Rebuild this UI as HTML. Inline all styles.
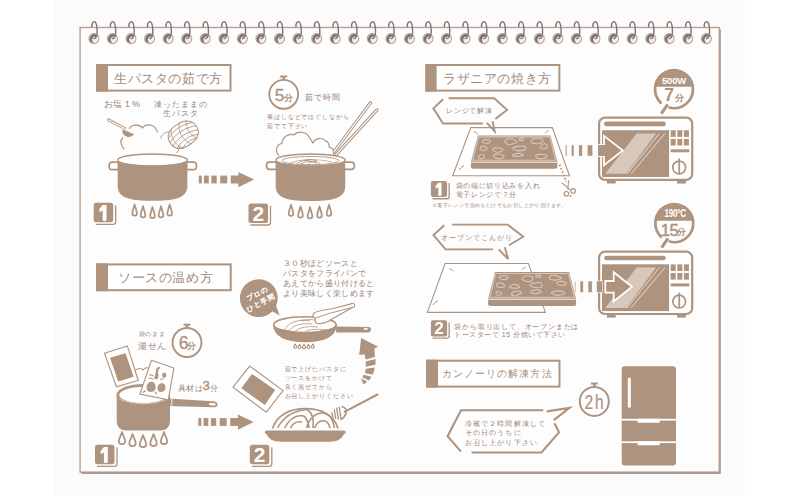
<!DOCTYPE html>
<html lang="ja"><head><meta charset="utf-8"><title>Cooking instructions</title>
<style>
html,body{margin:0;padding:0;background:#fff;width:800px;height:495px;overflow:hidden}
#bg{position:absolute;left:54px;top:0;width:691px;height:495px;background:#fbfbfb}
svg{position:absolute;left:0;top:0;font-family:"Liberation Sans",sans-serif}
</style></head><body>
<div id="bg"></div>
<svg width="800" height="495" viewBox="0 0 800 495">
<rect x="81.4" y="29.2" width="639.2" height="444.5" fill="#7a7a7a"/>
<rect x="80.1" y="27.5" width="639.1" height="444.6" fill="#fdfdfd" stroke="#bd9f8c" stroke-width="1.4"/>
<circle cx="93.90" cy="38.6" r="5.0" fill="#f6eeea" stroke="#bf9f8d" stroke-width="1.05"/>
<path d="M91.96,42.77 A4.6,4.6 0 0 1 96.20,34.62 L96.25,36.99 A2.9,2.9 0 0 0 93.57,42.13 Z" fill="#747474"/>
<path d="M91.90,27.20 C91.30,23.00 93.10,21.50 94.40,21.60 C97.30,22.30 97.40,31.60 96.80,35.40 C96.30,38.00 94.80,38.90 93.50,38.30" fill="none" stroke="#777" stroke-width="1.4"/>
<circle cx="112.46" cy="38.6" r="5.0" fill="#f6eeea" stroke="#bf9f8d" stroke-width="1.05"/>
<path d="M110.52,42.77 A4.6,4.6 0 0 1 114.76,34.62 L114.81,36.99 A2.9,2.9 0 0 0 112.13,42.13 Z" fill="#747474"/>
<path d="M110.46,27.20 C109.86,23.00 111.66,21.50 112.96,21.60 C115.86,22.30 115.96,31.60 115.36,35.40 C114.86,38.00 113.36,38.90 112.06,38.30" fill="none" stroke="#777" stroke-width="1.4"/>
<circle cx="131.02" cy="38.6" r="5.0" fill="#f6eeea" stroke="#bf9f8d" stroke-width="1.05"/>
<path d="M129.08,42.77 A4.6,4.6 0 0 1 133.32,34.62 L133.37,36.99 A2.9,2.9 0 0 0 130.69,42.13 Z" fill="#747474"/>
<path d="M129.02,27.20 C128.42,23.00 130.22,21.50 131.52,21.60 C134.42,22.30 134.52,31.60 133.92,35.40 C133.42,38.00 131.92,38.90 130.62,38.30" fill="none" stroke="#777" stroke-width="1.4"/>
<circle cx="149.58" cy="38.6" r="5.0" fill="#f6eeea" stroke="#bf9f8d" stroke-width="1.05"/>
<path d="M147.64,42.77 A4.6,4.6 0 0 1 151.88,34.62 L151.93,36.99 A2.9,2.9 0 0 0 149.25,42.13 Z" fill="#747474"/>
<path d="M147.58,27.20 C146.98,23.00 148.78,21.50 150.08,21.60 C152.98,22.30 153.08,31.60 152.48,35.40 C151.98,38.00 150.48,38.90 149.18,38.30" fill="none" stroke="#777" stroke-width="1.4"/>
<circle cx="168.14" cy="38.6" r="5.0" fill="#f6eeea" stroke="#bf9f8d" stroke-width="1.05"/>
<path d="M166.20,42.77 A4.6,4.6 0 0 1 170.44,34.62 L170.49,36.99 A2.9,2.9 0 0 0 167.81,42.13 Z" fill="#747474"/>
<path d="M166.14,27.20 C165.54,23.00 167.34,21.50 168.64,21.60 C171.54,22.30 171.64,31.60 171.04,35.40 C170.54,38.00 169.04,38.90 167.74,38.30" fill="none" stroke="#777" stroke-width="1.4"/>
<circle cx="186.70" cy="38.6" r="5.0" fill="#f6eeea" stroke="#bf9f8d" stroke-width="1.05"/>
<path d="M184.76,42.77 A4.6,4.6 0 0 1 189.00,34.62 L189.05,36.99 A2.9,2.9 0 0 0 186.37,42.13 Z" fill="#747474"/>
<path d="M184.70,27.20 C184.10,23.00 185.90,21.50 187.20,21.60 C190.10,22.30 190.20,31.60 189.60,35.40 C189.10,38.00 187.60,38.90 186.30,38.30" fill="none" stroke="#777" stroke-width="1.4"/>
<circle cx="205.26" cy="38.6" r="5.0" fill="#f6eeea" stroke="#bf9f8d" stroke-width="1.05"/>
<path d="M203.32,42.77 A4.6,4.6 0 0 1 207.56,34.62 L207.61,36.99 A2.9,2.9 0 0 0 204.93,42.13 Z" fill="#747474"/>
<path d="M203.26,27.20 C202.66,23.00 204.46,21.50 205.76,21.60 C208.66,22.30 208.76,31.60 208.16,35.40 C207.66,38.00 206.16,38.90 204.86,38.30" fill="none" stroke="#777" stroke-width="1.4"/>
<circle cx="223.82" cy="38.6" r="5.0" fill="#f6eeea" stroke="#bf9f8d" stroke-width="1.05"/>
<path d="M221.88,42.77 A4.6,4.6 0 0 1 226.12,34.62 L226.17,36.99 A2.9,2.9 0 0 0 223.49,42.13 Z" fill="#747474"/>
<path d="M221.82,27.20 C221.22,23.00 223.02,21.50 224.32,21.60 C227.22,22.30 227.32,31.60 226.72,35.40 C226.22,38.00 224.72,38.90 223.42,38.30" fill="none" stroke="#777" stroke-width="1.4"/>
<circle cx="242.38" cy="38.6" r="5.0" fill="#f6eeea" stroke="#bf9f8d" stroke-width="1.05"/>
<path d="M240.44,42.77 A4.6,4.6 0 0 1 244.68,34.62 L244.73,36.99 A2.9,2.9 0 0 0 242.05,42.13 Z" fill="#747474"/>
<path d="M240.38,27.20 C239.78,23.00 241.58,21.50 242.88,21.60 C245.78,22.30 245.88,31.60 245.28,35.40 C244.78,38.00 243.28,38.90 241.98,38.30" fill="none" stroke="#777" stroke-width="1.4"/>
<circle cx="260.94" cy="38.6" r="5.0" fill="#f6eeea" stroke="#bf9f8d" stroke-width="1.05"/>
<path d="M259.00,42.77 A4.6,4.6 0 0 1 263.24,34.62 L263.29,36.99 A2.9,2.9 0 0 0 260.61,42.13 Z" fill="#747474"/>
<path d="M258.94,27.20 C258.34,23.00 260.14,21.50 261.44,21.60 C264.34,22.30 264.44,31.60 263.84,35.40 C263.34,38.00 261.84,38.90 260.54,38.30" fill="none" stroke="#777" stroke-width="1.4"/>
<circle cx="279.50" cy="38.6" r="5.0" fill="#f6eeea" stroke="#bf9f8d" stroke-width="1.05"/>
<path d="M277.56,42.77 A4.6,4.6 0 0 1 281.80,34.62 L281.85,36.99 A2.9,2.9 0 0 0 279.17,42.13 Z" fill="#747474"/>
<path d="M277.50,27.20 C276.90,23.00 278.70,21.50 280.00,21.60 C282.90,22.30 283.00,31.60 282.40,35.40 C281.90,38.00 280.40,38.90 279.10,38.30" fill="none" stroke="#777" stroke-width="1.4"/>
<circle cx="298.06" cy="38.6" r="5.0" fill="#f6eeea" stroke="#bf9f8d" stroke-width="1.05"/>
<path d="M296.12,42.77 A4.6,4.6 0 0 1 300.36,34.62 L300.41,36.99 A2.9,2.9 0 0 0 297.73,42.13 Z" fill="#747474"/>
<path d="M296.06,27.20 C295.46,23.00 297.26,21.50 298.56,21.60 C301.46,22.30 301.56,31.60 300.96,35.40 C300.46,38.00 298.96,38.90 297.66,38.30" fill="none" stroke="#777" stroke-width="1.4"/>
<circle cx="316.62" cy="38.6" r="5.0" fill="#f6eeea" stroke="#bf9f8d" stroke-width="1.05"/>
<path d="M314.68,42.77 A4.6,4.6 0 0 1 318.92,34.62 L318.97,36.99 A2.9,2.9 0 0 0 316.29,42.13 Z" fill="#747474"/>
<path d="M314.62,27.20 C314.02,23.00 315.82,21.50 317.12,21.60 C320.02,22.30 320.12,31.60 319.52,35.40 C319.02,38.00 317.52,38.90 316.22,38.30" fill="none" stroke="#777" stroke-width="1.4"/>
<circle cx="335.18" cy="38.6" r="5.0" fill="#f6eeea" stroke="#bf9f8d" stroke-width="1.05"/>
<path d="M333.24,42.77 A4.6,4.6 0 0 1 337.48,34.62 L337.53,36.99 A2.9,2.9 0 0 0 334.85,42.13 Z" fill="#747474"/>
<path d="M333.18,27.20 C332.58,23.00 334.38,21.50 335.68,21.60 C338.58,22.30 338.68,31.60 338.08,35.40 C337.58,38.00 336.08,38.90 334.78,38.30" fill="none" stroke="#777" stroke-width="1.4"/>
<circle cx="353.74" cy="38.6" r="5.0" fill="#f6eeea" stroke="#bf9f8d" stroke-width="1.05"/>
<path d="M351.80,42.77 A4.6,4.6 0 0 1 356.04,34.62 L356.09,36.99 A2.9,2.9 0 0 0 353.41,42.13 Z" fill="#747474"/>
<path d="M351.74,27.20 C351.14,23.00 352.94,21.50 354.24,21.60 C357.14,22.30 357.24,31.60 356.64,35.40 C356.14,38.00 354.64,38.90 353.34,38.30" fill="none" stroke="#777" stroke-width="1.4"/>
<circle cx="372.30" cy="38.6" r="5.0" fill="#f6eeea" stroke="#bf9f8d" stroke-width="1.05"/>
<path d="M370.36,42.77 A4.6,4.6 0 0 1 374.60,34.62 L374.65,36.99 A2.9,2.9 0 0 0 371.97,42.13 Z" fill="#747474"/>
<path d="M370.30,27.20 C369.70,23.00 371.50,21.50 372.80,21.60 C375.70,22.30 375.80,31.60 375.20,35.40 C374.70,38.00 373.20,38.90 371.90,38.30" fill="none" stroke="#777" stroke-width="1.4"/>
<circle cx="390.86" cy="38.6" r="5.0" fill="#f6eeea" stroke="#bf9f8d" stroke-width="1.05"/>
<path d="M388.92,42.77 A4.6,4.6 0 0 1 393.16,34.62 L393.21,36.99 A2.9,2.9 0 0 0 390.53,42.13 Z" fill="#747474"/>
<path d="M388.86,27.20 C388.26,23.00 390.06,21.50 391.36,21.60 C394.26,22.30 394.36,31.60 393.76,35.40 C393.26,38.00 391.76,38.90 390.46,38.30" fill="none" stroke="#777" stroke-width="1.4"/>
<circle cx="409.42" cy="38.6" r="5.0" fill="#f6eeea" stroke="#bf9f8d" stroke-width="1.05"/>
<path d="M407.48,42.77 A4.6,4.6 0 0 1 411.72,34.62 L411.77,36.99 A2.9,2.9 0 0 0 409.09,42.13 Z" fill="#747474"/>
<path d="M407.42,27.20 C406.82,23.00 408.62,21.50 409.92,21.60 C412.82,22.30 412.92,31.60 412.32,35.40 C411.82,38.00 410.32,38.90 409.02,38.30" fill="none" stroke="#777" stroke-width="1.4"/>
<circle cx="427.98" cy="38.6" r="5.0" fill="#f6eeea" stroke="#bf9f8d" stroke-width="1.05"/>
<path d="M426.04,42.77 A4.6,4.6 0 0 1 430.28,34.62 L430.33,36.99 A2.9,2.9 0 0 0 427.65,42.13 Z" fill="#747474"/>
<path d="M425.98,27.20 C425.38,23.00 427.18,21.50 428.48,21.60 C431.38,22.30 431.48,31.60 430.88,35.40 C430.38,38.00 428.88,38.90 427.58,38.30" fill="none" stroke="#777" stroke-width="1.4"/>
<circle cx="446.54" cy="38.6" r="5.0" fill="#f6eeea" stroke="#bf9f8d" stroke-width="1.05"/>
<path d="M444.60,42.77 A4.6,4.6 0 0 1 448.84,34.62 L448.89,36.99 A2.9,2.9 0 0 0 446.21,42.13 Z" fill="#747474"/>
<path d="M444.54,27.20 C443.94,23.00 445.74,21.50 447.04,21.60 C449.94,22.30 450.04,31.60 449.44,35.40 C448.94,38.00 447.44,38.90 446.14,38.30" fill="none" stroke="#777" stroke-width="1.4"/>
<circle cx="465.10" cy="38.6" r="5.0" fill="#f6eeea" stroke="#bf9f8d" stroke-width="1.05"/>
<path d="M463.16,42.77 A4.6,4.6 0 0 1 467.40,34.62 L467.45,36.99 A2.9,2.9 0 0 0 464.77,42.13 Z" fill="#747474"/>
<path d="M463.10,27.20 C462.50,23.00 464.30,21.50 465.60,21.60 C468.50,22.30 468.60,31.60 468.00,35.40 C467.50,38.00 466.00,38.90 464.70,38.30" fill="none" stroke="#777" stroke-width="1.4"/>
<circle cx="483.66" cy="38.6" r="5.0" fill="#f6eeea" stroke="#bf9f8d" stroke-width="1.05"/>
<path d="M481.72,42.77 A4.6,4.6 0 0 1 485.96,34.62 L486.01,36.99 A2.9,2.9 0 0 0 483.33,42.13 Z" fill="#747474"/>
<path d="M481.66,27.20 C481.06,23.00 482.86,21.50 484.16,21.60 C487.06,22.30 487.16,31.60 486.56,35.40 C486.06,38.00 484.56,38.90 483.26,38.30" fill="none" stroke="#777" stroke-width="1.4"/>
<circle cx="502.22" cy="38.6" r="5.0" fill="#f6eeea" stroke="#bf9f8d" stroke-width="1.05"/>
<path d="M500.28,42.77 A4.6,4.6 0 0 1 504.52,34.62 L504.57,36.99 A2.9,2.9 0 0 0 501.89,42.13 Z" fill="#747474"/>
<path d="M500.22,27.20 C499.62,23.00 501.42,21.50 502.72,21.60 C505.62,22.30 505.72,31.60 505.12,35.40 C504.62,38.00 503.12,38.90 501.82,38.30" fill="none" stroke="#777" stroke-width="1.4"/>
<circle cx="520.78" cy="38.6" r="5.0" fill="#f6eeea" stroke="#bf9f8d" stroke-width="1.05"/>
<path d="M518.84,42.77 A4.6,4.6 0 0 1 523.08,34.62 L523.13,36.99 A2.9,2.9 0 0 0 520.45,42.13 Z" fill="#747474"/>
<path d="M518.78,27.20 C518.18,23.00 519.98,21.50 521.28,21.60 C524.18,22.30 524.28,31.60 523.68,35.40 C523.18,38.00 521.68,38.90 520.38,38.30" fill="none" stroke="#777" stroke-width="1.4"/>
<circle cx="539.34" cy="38.6" r="5.0" fill="#f6eeea" stroke="#bf9f8d" stroke-width="1.05"/>
<path d="M537.40,42.77 A4.6,4.6 0 0 1 541.64,34.62 L541.69,36.99 A2.9,2.9 0 0 0 539.01,42.13 Z" fill="#747474"/>
<path d="M537.34,27.20 C536.74,23.00 538.54,21.50 539.84,21.60 C542.74,22.30 542.84,31.60 542.24,35.40 C541.74,38.00 540.24,38.90 538.94,38.30" fill="none" stroke="#777" stroke-width="1.4"/>
<circle cx="557.90" cy="38.6" r="5.0" fill="#f6eeea" stroke="#bf9f8d" stroke-width="1.05"/>
<path d="M555.96,42.77 A4.6,4.6 0 0 1 560.20,34.62 L560.25,36.99 A2.9,2.9 0 0 0 557.57,42.13 Z" fill="#747474"/>
<path d="M555.90,27.20 C555.30,23.00 557.10,21.50 558.40,21.60 C561.30,22.30 561.40,31.60 560.80,35.40 C560.30,38.00 558.80,38.90 557.50,38.30" fill="none" stroke="#777" stroke-width="1.4"/>
<circle cx="576.46" cy="38.6" r="5.0" fill="#f6eeea" stroke="#bf9f8d" stroke-width="1.05"/>
<path d="M574.52,42.77 A4.6,4.6 0 0 1 578.76,34.62 L578.81,36.99 A2.9,2.9 0 0 0 576.13,42.13 Z" fill="#747474"/>
<path d="M574.46,27.20 C573.86,23.00 575.66,21.50 576.96,21.60 C579.86,22.30 579.96,31.60 579.36,35.40 C578.86,38.00 577.36,38.90 576.06,38.30" fill="none" stroke="#777" stroke-width="1.4"/>
<circle cx="595.02" cy="38.6" r="5.0" fill="#f6eeea" stroke="#bf9f8d" stroke-width="1.05"/>
<path d="M593.08,42.77 A4.6,4.6 0 0 1 597.32,34.62 L597.37,36.99 A2.9,2.9 0 0 0 594.69,42.13 Z" fill="#747474"/>
<path d="M593.02,27.20 C592.42,23.00 594.22,21.50 595.52,21.60 C598.42,22.30 598.52,31.60 597.92,35.40 C597.42,38.00 595.92,38.90 594.62,38.30" fill="none" stroke="#777" stroke-width="1.4"/>
<circle cx="613.58" cy="38.6" r="5.0" fill="#f6eeea" stroke="#bf9f8d" stroke-width="1.05"/>
<path d="M611.64,42.77 A4.6,4.6 0 0 1 615.88,34.62 L615.93,36.99 A2.9,2.9 0 0 0 613.25,42.13 Z" fill="#747474"/>
<path d="M611.58,27.20 C610.98,23.00 612.78,21.50 614.08,21.60 C616.98,22.30 617.08,31.60 616.48,35.40 C615.98,38.00 614.48,38.90 613.18,38.30" fill="none" stroke="#777" stroke-width="1.4"/>
<circle cx="632.14" cy="38.6" r="5.0" fill="#f6eeea" stroke="#bf9f8d" stroke-width="1.05"/>
<path d="M630.20,42.77 A4.6,4.6 0 0 1 634.44,34.62 L634.49,36.99 A2.9,2.9 0 0 0 631.81,42.13 Z" fill="#747474"/>
<path d="M630.14,27.20 C629.54,23.00 631.34,21.50 632.64,21.60 C635.54,22.30 635.64,31.60 635.04,35.40 C634.54,38.00 633.04,38.90 631.74,38.30" fill="none" stroke="#777" stroke-width="1.4"/>
<circle cx="650.70" cy="38.6" r="5.0" fill="#f6eeea" stroke="#bf9f8d" stroke-width="1.05"/>
<path d="M648.76,42.77 A4.6,4.6 0 0 1 653.00,34.62 L653.05,36.99 A2.9,2.9 0 0 0 650.37,42.13 Z" fill="#747474"/>
<path d="M648.70,27.20 C648.10,23.00 649.90,21.50 651.20,21.60 C654.10,22.30 654.20,31.60 653.60,35.40 C653.10,38.00 651.60,38.90 650.30,38.30" fill="none" stroke="#777" stroke-width="1.4"/>
<circle cx="669.26" cy="38.6" r="5.0" fill="#f6eeea" stroke="#bf9f8d" stroke-width="1.05"/>
<path d="M667.32,42.77 A4.6,4.6 0 0 1 671.56,34.62 L671.61,36.99 A2.9,2.9 0 0 0 668.93,42.13 Z" fill="#747474"/>
<path d="M667.26,27.20 C666.66,23.00 668.46,21.50 669.76,21.60 C672.66,22.30 672.76,31.60 672.16,35.40 C671.66,38.00 670.16,38.90 668.86,38.30" fill="none" stroke="#777" stroke-width="1.4"/>
<circle cx="687.82" cy="38.6" r="5.0" fill="#f6eeea" stroke="#bf9f8d" stroke-width="1.05"/>
<path d="M685.88,42.77 A4.6,4.6 0 0 1 690.12,34.62 L690.17,36.99 A2.9,2.9 0 0 0 687.49,42.13 Z" fill="#747474"/>
<path d="M685.82,27.20 C685.22,23.00 687.02,21.50 688.32,21.60 C691.22,22.30 691.32,31.60 690.72,35.40 C690.22,38.00 688.72,38.90 687.42,38.30" fill="none" stroke="#777" stroke-width="1.4"/>
<circle cx="706.38" cy="38.6" r="5.0" fill="#f6eeea" stroke="#bf9f8d" stroke-width="1.05"/>
<path d="M704.44,42.77 A4.6,4.6 0 0 1 708.68,34.62 L708.73,36.99 A2.9,2.9 0 0 0 706.05,42.13 Z" fill="#747474"/>
<path d="M704.38,27.20 C703.78,23.00 705.58,21.50 706.88,21.60 C709.78,22.30 709.88,31.60 709.28,35.40 C708.78,38.00 707.28,38.90 705.98,38.30" fill="none" stroke="#777" stroke-width="1.4"/>
<rect x="97" y="65" width="133.5" height="25.6" fill="#fff" stroke="#ae937e" stroke-width="2"/><rect x="96" y="64" width="12" height="27.6" fill="#ae937e"/><text x="114" y="82.8" font-size="13" letter-spacing="0.60" fill="#a68a77" >生パスタの茹で方</text>
<rect x="97" y="264.4" width="133.7" height="25.8" fill="#fff" stroke="#ae937e" stroke-width="2"/><rect x="96" y="263.4" width="12" height="27.8" fill="#ae937e"/><text x="118" y="282.3" font-size="13" letter-spacing="0.60" fill="#a68a77" >ソースの温め方</text>
<rect x="426.4" y="65" width="133" height="25.6" fill="#fff" stroke="#ae937e" stroke-width="2"/><rect x="425.4" y="64" width="11.2" height="27.6" fill="#ae937e"/><text x="443" y="82.8" font-size="13" letter-spacing="0.60" fill="#a68a77" >ラザニアの焼き方</text>
<rect x="427" y="360.7" width="132.5" height="25.9" fill="#fff" stroke="#ae937e" stroke-width="2"/><rect x="426" y="359.7" width="12" height="27.9" fill="#ae937e"/><text x="441.7" y="376.8" font-size="10" letter-spacing="1.10" fill="#a68a77" >カンノーリの解凍方法</text>
<rect x="93.7" y="202.8" width="19.5" height="19.5" rx="2.50" fill="#ae937e"/><path d="M115.70,205.30 V221.80 Q115.70,224.30 113.20,224.30 H95.70" fill="none" stroke="#ae937e" stroke-width="1.3"/><path d="M102.60,205.10 L106.50,205.10 L106.50,219.40 Q106.50,221.10 104.80,221.10 L104.30,221.10 Q102.60,221.10 102.60,219.40 L102.60,210.40 L100.30,211.70 Q99.30,212.00 99.30,211.00 L99.30,209.40 Q99.30,208.40 100.20,208.00 Z" fill="#fff"/>
<rect x="248.5" y="203.5" width="19.5" height="19.5" rx="2.50" fill="#ae937e"/><path d="M270.50,206.00 V222.50 Q270.50,225.00 268.00,225.00 H250.50" fill="none" stroke="#ae937e" stroke-width="1.3"/><text x="258.25" y="220.56" font-size="21" font-weight="bold" fill="#fff" text-anchor="middle">2</text>
<rect x="95" y="444.8" width="19.5" height="19.5" rx="2.50" fill="#ae937e"/><path d="M117.00,447.30 V463.80 Q117.00,466.30 114.50,466.30 H97.00" fill="none" stroke="#ae937e" stroke-width="1.3"/><path d="M103.90,447.10 L107.80,447.10 L107.80,461.40 Q107.80,463.10 106.10,463.10 L105.60,463.10 Q103.90,463.10 103.90,461.40 L103.90,452.40 L101.60,453.70 Q100.60,454.00 100.60,453.00 L100.60,451.40 Q100.60,450.40 101.50,450.00 Z" fill="#fff"/>
<rect x="249.8" y="444.8" width="19.5" height="19.5" rx="2.50" fill="#ae937e"/><path d="M271.80,447.30 V463.80 Q271.80,466.30 269.30,466.30 H251.80" fill="none" stroke="#ae937e" stroke-width="1.3"/><text x="259.55" y="461.86" font-size="21" font-weight="bold" fill="#fff" text-anchor="middle">2</text>
<rect x="430.9" y="180.9" width="16.2" height="16.2" rx="2.08" fill="#ae937e"/><path d="M449.18,182.98 V196.68 Q449.18,198.76 447.10,198.76 H432.56" fill="none" stroke="#ae937e" stroke-width="1.3"/><path d="M438.29,182.81 L441.53,182.81 L441.53,194.69 Q441.53,196.10 440.12,196.10 L439.71,196.10 Q438.29,196.10 438.29,194.69 L438.29,187.21 L436.38,188.29 Q435.55,188.54 435.55,187.71 L435.55,186.38 Q435.55,185.55 436.30,185.22 Z" fill="#fff"/>
<rect x="430.9" y="320.3" width="16.2" height="16.2" rx="2.08" fill="#ae937e"/><path d="M449.18,322.38 V336.08 Q449.18,338.16 447.10,338.16 H432.56" fill="none" stroke="#ae937e" stroke-width="1.3"/><text x="439.00" y="334.48" font-size="17" font-weight="bold" fill="#fff" text-anchor="middle">2</text>
<rect x="198.8" y="175.6" width="3" height="7.8" fill="#ae937e"/><rect x="204.0" y="175.6" width="4.8" height="7.8" fill="#ae937e"/><rect x="211.4" y="175.6" width="5.3" height="7.8" fill="#ae937e"/><rect x="220.2" y="175.6" width="7" height="7.8" fill="#ae937e"/><path d="M230.7,175.6 H238.4 V172.0 L254.1,179.5 L238.4,187.2 V183.4 H230.7 Z" fill="#ae937e"/>
<rect x="198.3" y="418.1" width="3" height="7.8" fill="#ae937e"/><rect x="203.5" y="418.1" width="4.8" height="7.8" fill="#ae937e"/><rect x="210.9" y="418.1" width="5.3" height="7.8" fill="#ae937e"/><rect x="219.7" y="418.1" width="7" height="7.8" fill="#ae937e"/><path d="M230.2,418.1 H237.9 V414.5 L253.6,422.0 L237.9,429.7 V425.9 H230.2 Z" fill="#ae937e"/>
<text x="104" y="106.6" font-size="9" letter-spacing="0.30" fill="#9a8374" >お塩１%</text>
<text x="154" y="106.6" font-size="8" letter-spacing="1.10" fill="#9a8374" >凍ったままの</text>
<text x="162.7" y="116.2" font-size="8" letter-spacing="1.10" fill="#9a8374" >生パスタ</text>
<path d="M124.4,149.4 C120,145 120,140 123,137.5 M129.3,128.7 C131,124.5 139,123.5 142.6,127.9 C145,123.5 155,123 157.5,132.4" fill="none" stroke="#ae937e" stroke-width="1.2"/>
<path d="M108.6,119.9 L124.4,128.3" stroke="#ae937e" stroke-width="3" stroke-linecap="round"/><path d="M108.6,119.9 L124.4,128.3" stroke="#fff" stroke-width="1.1" stroke-linecap="round"/>
<path d="M122.2,128.6 L134.6,134 A6.8,6.8 0 0 1 122.2,128.6 Z" fill="#ae937e" stroke="#fff" stroke-width="0.9"/>
<g transform="rotate(-32 183 135)" fill="none" stroke="#ae937e" stroke-linecap="round"><path d="M168,135.5 C167.5,128 172,123.5 182,123 C193,122.5 199,127 199,134.5 C199,142 193.5,146.5 183,146.8 C172.5,147 168.3,142.5 168,135.5 Z" fill="#fff" stroke-width="1"/><path d="M169.5,130 C176,126 188,125 197.5,129.5 M168.5,134.5 C176,130 190,129.5 198.5,134 M169,139 C177,134.5 190,134 198,138.5 M171,143 C179,139 190,138.5 196,142.5 M176,146 C182,142.5 188,142.5 192,145" stroke-width="0.8"/><path d="M176,124 C171,130 171,140 176,146 M186,123 C180,130 180,139 185,146.5 M193,124.5 C189,131 189,139 193,145.5" stroke-width="0.7"/></g>
<path d="M160.7,138.4 C162,134 166,131.5 170.3,131.6 M180,146.1 C179.5,149 178,151.5 176.4,153" fill="none" stroke="#ae937e" stroke-width="1"/>
<path d="M118.7,162.2 H112.2 Q109.2,162.2 109.2,165.9 Q109.2,169.6 112.2,169.6 H118.7 Z" fill="#fff" stroke="#ae937e" stroke-width="1.7"/><path d="M186.4,162.2 H193.5 Q196.5,162.2 196.5,165.9 Q196.5,169.6 193.5,169.6 H186.4 Z" fill="#fff" stroke="#ae937e" stroke-width="1.7"/><path d="M117.7,160 V186.8 C118.2,198.8 132.55,200.8 152.55,200.8 C172.55,200.8 186.9,198.8 187.4,186.8 V160 A34.85,6.0 0 0 1 117.7,160 Z" fill="#ae937e"/><path d="M117.7,160 A34.85,6.0 0 0 1 187.4,160 A34.85,6.0 0 0 1 117.7,160 Z" fill="#fff" stroke="#ae937e" stroke-width="1.3"/><path d="M118.3,160.2 A34.25,5.4 0 0 0 186.8,160.2 L185.9,161.8 A33.35,7.5 0 0 1 119.2,161.8 Z" fill="#ae937e"/><ellipse cx="152.55" cy="160.6" rx="28.7" ry="4.1" fill="#fff" stroke="#ae937e" stroke-width="0"/>
<path d="M134.6,204.5 C135.29,207.80 136.9,210.55 136.9,213.54 A2.3,2.07 0 0 1 132.29999999999998,213.54 C132.29999999999998,210.55 133.91,207.80 134.6,204.5 Z" fill="#fff" stroke="#ae937e" stroke-width="1.75" stroke-linejoin="round"/><path d="M143,206.2 C143.69,209.50 145.3,212.25 145.3,215.24 A2.3,2.07 0 0 1 140.7,215.24 C140.7,212.25 142.31,209.50 143,206.2 Z" fill="#fff" stroke="#ae937e" stroke-width="1.75" stroke-linejoin="round"/><path d="M152.5,207 C153.19,210.30 154.8,213.05 154.8,216.04 A2.3,2.07 0 0 1 150.2,216.04 C150.2,213.05 151.81,210.30 152.5,207 Z" fill="#fff" stroke="#ae937e" stroke-width="1.75" stroke-linejoin="round"/><path d="M161,206.2 C161.69,209.50 163.3,212.25 163.3,215.24 A2.3,2.07 0 0 1 158.7,215.24 C158.7,212.25 160.31,209.50 161,206.2 Z" fill="#fff" stroke="#ae937e" stroke-width="1.75" stroke-linejoin="round"/><path d="M169.7,204.5 C170.39,207.80 172.0,210.55 172.0,213.54 A2.3,2.07 0 0 1 167.39999999999998,213.54 C167.39999999999998,210.55 169.01,207.80 169.7,204.5 Z" fill="#fff" stroke="#ae937e" stroke-width="1.75" stroke-linejoin="round"/>
<rect x="280.2" y="75.5" width="7" height="2" fill="#ae937e"/><rect x="282.4" y="76.9" width="2.6" height="2.5" fill="#ae937e"/><circle cx="283.7" cy="94.3" r="14.45" fill="#fff" stroke="#ae937e" stroke-width="1.9"/>
<text x="274.8" y="100.7" font-size="17.4" fill="#ae937e" stroke="#ae937e" stroke-width="0.35">5</text>
<text x="284.0" y="101.2" font-size="9" letter-spacing="0.40" fill="#ae937e" font-weight="bold">分</text>
<text x="305.1" y="99.8" font-size="8" letter-spacing="0.90" fill="#9a8374" >茹で時間</text>
<text x="267" y="118.5" font-size="6" letter-spacing="0.90" fill="#9a8374" >菜ばしなどでほぐしながら</text>
<text x="267" y="127.6" font-size="6" letter-spacing="0.90" fill="#9a8374" >茹でて下さい</text>
<path d="M279,156 C275,151 276,144 282,143.5 C282,137 289,133 294,135 C297,131 306,131 309,137 C312,141 312,142 313,143 C315,138 322,137 326,141 C330,143 329,146 329,147 C334,148 335,153 333,156" fill="#fff" stroke="#ae937e" stroke-width="1.2"/>
<path d="M334.2,151.6 L370.5,102.8 M336.3,154.4 L377,109.9" stroke="#ae937e" stroke-width="3.2" stroke-linecap="round"/>
<path d="M334.2,151.6 L370.5,102.8 M336.3,154.4 L377,109.9" stroke="#fff" stroke-width="1.2" stroke-linecap="round"/>
<path d="M276.7,162.2 H269.5 Q266.5,162.2 266.5,165.8 Q266.5,169.4 269.5,169.4 H276.7 Z" fill="#fff" stroke="#ae937e" stroke-width="1.7"/><path d="M344.2,162.2 H351.4 Q354.4,162.2 354.4,165.8 Q354.4,169.4 351.4,169.4 H344.2 Z" fill="#fff" stroke="#ae937e" stroke-width="1.7"/><path d="M275.7,160 V186.9 C276.2,198.9 290.45,200.9 310.45,200.9 C330.45,200.9 344.7,198.9 345.2,186.9 V160 A34.75,6.0 0 0 1 275.7,160 Z" fill="#ae937e"/><path d="M275.7,160 A34.75,6.0 0 0 1 345.2,160 A34.75,6.0 0 0 1 275.7,160 Z" fill="#fff" stroke="#ae937e" stroke-width="1.3"/><path d="M276.3,160.2 A34.15,5.4 0 0 0 344.59999999999997,160.2 L343.7,161.8 A33.25,7.5 0 0 1 277.2,161.8 Z" fill="#ae937e"/><ellipse cx="310.45" cy="160.6" rx="28.6" ry="4.1" fill="#fff" stroke="#ae937e" stroke-width="0.9"/><path d="M297,164 C301,160 306,159.5 311,161.5 M300,164.3 C305,161 312,160.5 317,163.5 M304,160.5 C310,158.5 316,159.5 320,164 M308,164.5 C311,161.5 314,161 317,162" fill="none" stroke="#ae937e" stroke-width="0.9"/><path d="M290,163 C300,159 318,158.5 332,162" fill="none" stroke="#ae937e" stroke-width="0.7"/>
<path d="M291,204.8 C291.69,208.10 293.3,210.85 293.3,213.84 A2.3,2.07 0 0 1 288.7,213.84 C288.7,210.85 290.31,208.10 291,204.8 Z" fill="#fff" stroke="#ae937e" stroke-width="1.75" stroke-linejoin="round"/><path d="M300.5,206.4 C301.19,209.70 302.8,212.45 302.8,215.44 A2.3,2.07 0 0 1 298.2,215.44 C298.2,212.45 299.81,209.70 300.5,206.4 Z" fill="#fff" stroke="#ae937e" stroke-width="1.75" stroke-linejoin="round"/><path d="M310,207.2 C310.69,210.50 312.3,213.25 312.3,216.24 A2.3,2.07 0 0 1 307.7,216.24 C307.7,213.25 309.31,210.50 310,207.2 Z" fill="#fff" stroke="#ae937e" stroke-width="1.75" stroke-linejoin="round"/><path d="M319.5,206.4 C320.19,209.70 321.8,212.45 321.8,215.44 A2.3,2.07 0 0 1 317.2,215.44 C317.2,212.45 318.81,209.70 319.5,206.4 Z" fill="#fff" stroke="#ae937e" stroke-width="1.75" stroke-linejoin="round"/><path d="M329,204.8 C329.69,208.10 331.3,210.85 331.3,213.84 A2.3,2.07 0 0 1 326.7,213.84 C326.7,210.85 328.31,208.10 329,204.8 Z" fill="#fff" stroke="#ae937e" stroke-width="1.75" stroke-linejoin="round"/>
<rect x="183.5" y="323.7" width="7" height="2" fill="#ae937e"/><rect x="185.7" y="325.1" width="2.6" height="2.5" fill="#ae937e"/><circle cx="187" cy="342.5" r="14.45" fill="#fff" stroke="#ae937e" stroke-width="1.9"/>
<text x="178.8" y="349.3" font-size="17.8" fill="#ae937e" stroke="#ae937e" stroke-width="0.35">6</text>
<text x="187.3" y="349.3" font-size="9" letter-spacing="0.60" fill="#ae937e" font-weight="bold">分</text>
<text x="138.6" y="336.0" font-size="6" letter-spacing="0.90" fill="#9a8374" >袋のまま</text>
<text x="138.4" y="349.0" font-size="9" letter-spacing="0.40" fill="#9a8374" >湯せん</text>
<path d="M134,375 C134,369 140,367 143,370 C146,366 151,368 151,372" fill="#fff" stroke="#ae937e" stroke-width="1.1"/>
<path d="M116.7,395 V421 Q116.7,430.5 127,430.5 H160 Q170,430.5 170,421 V395 Z" fill="#ae937e"/>
<ellipse cx="143.3" cy="395" rx="25.4" ry="9.6" fill="#fff" stroke="#ae937e" stroke-width="2.6"/>
<path d="M118.5,399 Q143.3,409 168.5,399" fill="none" stroke="#d8c8bc" stroke-width="0.9"/>
<polygon points="104.5,353.2 127.3,345.9 138.2,380.5 116.4,386.8" fill="#fff" stroke="#ae937e" stroke-width="1.1"/>
<polygon points="110,357.7 125.5,353.2 133.6,376.8 118.2,381.4" fill="#ae937e"/>
<polygon points="151.5,360.2 173.8,368.1 168.3,399.8 139.9,394.1" fill="#fff" stroke="#ae937e" stroke-width="1.1"/>
<g fill="#ae937e" opacity="0.95"><path d="M156.5,368.5 C158,366.5 160,366.8 160.5,368 L158.5,369.5 L158,373 C159,375 158.5,378 157,379.5 L154,378.5 C155,376 156,373 155.8,370 Z"/><ellipse cx="164.2" cy="375.2" rx="2.2" ry="2.6"/><path d="M149.5,374 L154,375.5 L153.6,376.6 L149.2,375.2 Z M148.8,377.5 L153.5,378.6 L153.2,379.6 L148.4,378.6 Z M160,379 L163.5,378 L163.8,379.2 L160.3,380 Z"/><path d="M146.5,387 C147,383 150,381 153,382 C155,383 156,386 155.5,389 C154.8,391.5 151,392.5 148.5,391.5 C147,390.5 146.4,389 146.5,387 Z M157.5,387.5 C158,384 161,382.5 163.5,383.5 C165.5,384.5 166,387.5 165,390 C164,392 160.5,392.5 158.8,391.5 C157.8,390.5 157.3,389 157.5,387.5 Z M145,390 L142.5,392 L143,393 L146,391.5 Z M154.5,392 L156,394.5 L157,394 L156,391.5 Z"/></g>
<path d="M168,398.5 L213,401.3 Q218,401.8 217.5,405 Q217,407.5 213,407.3 L168,406 Z" fill="#ae937e"/>
<ellipse cx="212.3" cy="404.3" rx="3.6" ry="1.3" fill="#fff" transform="rotate(4 212.3 404.3)"/><path d="M171.8,398.6 V406" stroke="#fff" stroke-width="0.9"/>
<text x="177.8" y="390.5" font-size="8" letter-spacing="0.40" fill="#9a8374" >具材は</text>
<text x="202.6" y="389.8" font-size="13.2" fill="#ae937e" stroke="#ae937e" stroke-width="0.4">3</text>
<text x="210" y="390.5" font-size="8" letter-spacing="0.40" fill="#9a8374" >分</text>
<path d="M122,432 C122.96,435.60 125.2,438.60 125.2,441.28 A3.2,2.88 0 0 1 118.8,441.28 C118.8,438.60 121.04,435.60 122,432 Z" fill="#fff" stroke="#ae937e" stroke-width="1.75" stroke-linejoin="round"/><path d="M132.5,434 C133.46,437.60 135.7,440.60 135.7,443.28 A3.2,2.88 0 0 1 129.3,443.28 C129.3,440.60 131.54,437.60 132.5,434 Z" fill="#fff" stroke="#ae937e" stroke-width="1.75" stroke-linejoin="round"/><path d="M143,435 C143.96,438.60 146.2,441.60 146.2,444.28 A3.2,2.88 0 0 1 139.8,444.28 C139.8,441.60 142.04,438.60 143,435 Z" fill="#fff" stroke="#ae937e" stroke-width="1.75" stroke-linejoin="round"/><path d="M153.5,434 C154.46,437.60 156.7,440.60 156.7,443.28 A3.2,2.88 0 0 1 150.3,443.28 C150.3,440.60 152.54,437.60 153.5,434 Z" fill="#fff" stroke="#ae937e" stroke-width="1.75" stroke-linejoin="round"/><path d="M164,432 C164.96,435.60 167.2,438.60 167.2,441.28 A3.2,2.88 0 0 1 160.8,441.28 C160.8,438.60 163.04,435.60 164,432 Z" fill="#fff" stroke="#ae937e" stroke-width="1.75" stroke-linejoin="round"/>
<text x="283.2" y="266.2" font-size="8" letter-spacing="0.30" fill="#9a8374" >３０秒ほどソースと</text>
<text x="283.2" y="276.2" font-size="8" letter-spacing="0.30" fill="#9a8374" >パスタをフライパンで</text>
<text x="283.2" y="286.2" font-size="8" letter-spacing="0.30" fill="#9a8374" >あえてから盛り付けると</text>
<text x="283.2" y="296.2" font-size="8" letter-spacing="0.30" fill="#9a8374" >より美味しく楽しめます</text>
<circle cx="258.8" cy="298.2" r="18.9" fill="#ae937e"/><path d="M270,310 L279.6,315.6 L275.5,304 Z" fill="#ae937e"/>
<text transform="translate(257.2 293.4) rotate(-27)" x="0" y="2.8" font-size="7" letter-spacing="0.6" fill="#fff" stroke="#fff" stroke-width="0.35" text-anchor="middle">プロの</text><text transform="translate(260.6 302.2) rotate(-27)" x="0" y="2.8" font-size="7" letter-spacing="0.6" fill="#fff" stroke="#fff" stroke-width="0.35" text-anchor="middle">ひと手間</text>
<path d="M273,325 Q274.5,342.2 305,342.2 Q335.5,342.2 336.8,325 Z" fill="#ae937e"/>
<ellipse cx="304.9" cy="324.7" rx="31.2" ry="7.9" fill="#fff" stroke="#ae937e" stroke-width="1.6"/>
<path d="M274,327 Q305,337 336,327 L336.6,328.5 Q305,340 273.4,328.5 Z" fill="#ae937e"/>
<path d="M336,326.6 L368.5,327 Q371.2,327.3 371,329.6 Q370.7,332.4 368,332.4 L336.2,332.6 Z" fill="#ae937e"/><ellipse cx="365.8" cy="328.9" rx="2.2" ry="0.9" fill="#fff"/>
<path d="M285,330 C288,322 298,319 310,321 M289,331 C293,325 301,323 312,324 M295,331.5 C300,327 307,326 318,327 M305,331.5 C310,329 317,329 326,330 M300,320.5 C310,318.5 320,320 326,323" fill="none" stroke="#ae937e" stroke-width="0.8"/>
<path d="M313.5,313.5 C316,311 322,310 333.8,308.5 L351.8,303.6 Q355.2,303 354.6,306 Q354.3,307 352.5,307.6 L332,319 C328,322 324,323.6 318,323.8 Q314.8,323.6 315,318.3 Q312,317 313.5,313.5 Z" fill="#fff" stroke="#ae937e" stroke-width="1.1"/>
<path d="M315,318.3 C322,316 328,313.5 332.3,312.6 L352.5,307.4 M330,319.4 C334,321 336,323 336.8,325.8" fill="none" stroke="#ae937e" stroke-width="1"/>
<path d="M295.2,344 C295.65,345.26 296.7,346.31 296.7,346.93 A1.5,1.35 0 0 1 293.7,346.93 C293.7,346.31 294.75,345.26 295.2,344 Z" fill="#fff" stroke="#ae937e" stroke-width="1.1" stroke-linejoin="round"/><path d="M299.6,344.2 C300.05,345.46 301.1,346.51 301.1,347.12 A1.5,1.35 0 0 1 298.1,347.12 C298.1,346.51 299.15,345.46 299.6,344.2 Z" fill="#fff" stroke="#ae937e" stroke-width="1.1" stroke-linejoin="round"/><path d="M304,344.3 C304.45,345.56 305.5,346.61 305.5,347.23 A1.5,1.35 0 0 1 302.5,347.23 C302.5,346.61 303.55,345.56 304,344.3 Z" fill="#fff" stroke="#ae937e" stroke-width="1.1" stroke-linejoin="round"/><path d="M308.4,344.2 C308.85,345.46 309.9,346.51 309.9,347.12 A1.5,1.35 0 0 1 306.9,347.12 C306.9,346.51 307.95,345.46 308.4,344.2 Z" fill="#fff" stroke="#ae937e" stroke-width="1.1" stroke-linejoin="round"/><path d="M312.8,344 C313.25,345.26 314.3,346.31 314.3,346.93 A1.5,1.35 0 0 1 311.3,346.93 C311.3,346.31 312.35,345.26 312.8,344 Z" fill="#fff" stroke="#ae937e" stroke-width="1.1" stroke-linejoin="round"/>
<text x="284.5" y="370.9" font-size="6" letter-spacing="0.90" fill="#9a8374" >茹で上げたパスタに</text>
<text x="284.5" y="379.79999999999995" font-size="6" letter-spacing="0.90" fill="#9a8374" >ソースをかけて</text>
<text x="284.5" y="388.7" font-size="6" letter-spacing="0.90" fill="#9a8374" >良く混ぜてから</text>
<text x="284.5" y="397.59999999999997" font-size="6" letter-spacing="0.90" fill="#9a8374" >お召し上がりください</text>
<polygon points="249.7,366.1 283,390.6 266.3,412.2 233,387.2" fill="#fff" stroke="#ae937e" stroke-width="1.1"/>
<polygon points="251.9,373.9 275.2,390 264.7,405 241.3,388.3" fill="#ae937e"/>
<path d="M266.5,430.5 H343.8 Q346,430.6 345.8,432.6 Q345.6,433.8 344,434 Q341,441.7 330,441.7 H281 Q269,441.7 266.5,434 Q264.8,433.8 264.7,432.6 Q264.6,430.6 266.5,430.5 Z" fill="#ae937e"/>
<path d="M272.5,428.5 C277,414 291,408.7 305.5,408.7 C320,408.7 334,414 338,428.5" fill="none" stroke="#ae937e" stroke-width="1.7"/>
<path d="M277.7,428 C283,417 293,411 307,409.5 M284.5,428 C289,419 294,416 301,415.5 C306,415.5 308,420 309,428 M290.5,428 C293,423 297,421 302,422 M307,409.5 C313,413 314,420 313,428 M306.5,428 C309,418 316,413 322,413 C330,413 333,420 334.5,428 M314.5,428 C317,422 321,420 325,421 C328,422 329,424 330,428" fill="none" stroke="#ae937e" stroke-width="1.6"/>
<path d="M344.5,411.8 L377.5,394.5" stroke="#ae937e" stroke-width="2" stroke-linecap="round"/>
<path d="M341.5,406.5 C345.5,407 347,410 346,413.5 C345,416.5 343,418.5 340.5,419.5" fill="none" stroke="#ae937e" stroke-width="1.6"/>
<path d="M336.6,407.6 L338.4,419.4 M339.2,406.8 L341,418.8 M334.2,409.4 L335.8,419 M331.8,412.4 L333.2,418.6" stroke="#ae937e" stroke-width="1.3"/>
<path d="M361.1,338.1 L378.2,346.8 L374.4,348.6 L374.9,356.9 L365.7,359.5 L364.6,354.2 L359.2,354.9 Z" fill="#ae937e"/>
<path d="M365.7,361.6 L375.6,358.9 L375.4,364.8 L365.7,366.8 Z M365.7,368.8 L374.9,367.4 L373,374.4 L365,373.3 Z M363.8,374.8 L371.4,376.8 L369,380.5 L362.4,377.3 Z M361.1,378.6 L367,381.2 L365,383.8 L363.1,383.8 Z" fill="#ae937e"/>
<polygon points="470.8,127.6 552.3,127.6 569.5,175.7 452.7,175.7" fill="#fff" stroke="#ae937e" stroke-width="1.1"/>
<path d="M474,131.5 Q476.5,132 478,134.5 M545,133.5 Q546.5,131.5 548.5,130.5 M459,170 Q461,167 464,165.5" fill="none" stroke="#ae937e" stroke-width="1"/>
<path d="M477.8,135.4 H550.5 L557.2,161.4 L557.5,166.8 Q557.5,168.8 555.0,168.8 H473.3 Q470.8,168.8 470.8,166.8 L471.1,161.4 Z" fill="#ae937e"/><path d="M478.4,136.9 H549.9 L555.5,160.2 H472.8 Z" fill="none" stroke="#d8c8bc" stroke-width="1.1"/><path d="M471.1,162.2 H557.2" stroke="#fff" stroke-width="0.9"/><path d="M490.6,141.8 Q490.7,142.9 487.8,143.2 Q485.0,143.5 483.4,142.7 Q481.8,141.9 482.8,141.0 Q483.7,140.1 484.2,139.7 Q484.7,139.3 486.8,139.6 Q489.0,139.9 489.7,140.3 Q490.5,140.6 490.6,141.8 Z" fill="none" stroke="#d8c8bc" stroke-width="1.1"/><path d="M515.6,142.9 Q513.6,143.7 510.9,144.3 Q508.3,144.9 507.0,143.8 Q505.7,142.8 505.0,142.0 Q504.3,141.2 505.6,140.0 Q506.8,138.7 510.4,138.8 Q513.9,139.0 515.8,140.6 Q517.7,142.2 515.6,142.9 Z" fill="none" stroke="#d8c8bc" stroke-width="1.1"/><path d="M523.5,139.9 Q523.0,140.3 522.1,140.5 Q521.2,140.8 520.0,140.4 Q518.7,140.1 519.0,139.4 Q519.3,138.7 520.2,138.4 Q521.2,138.0 522.1,138.1 Q523.1,138.1 523.5,138.8 Q524.0,139.6 523.5,139.9 Z" fill="none" stroke="#d8c8bc" stroke-width="1.1"/><path d="M542.3,142.4 Q541.0,143.6 538.5,143.7 Q536.0,143.8 533.8,143.4 Q531.6,143.0 531.0,141.5 Q530.5,140.1 532.7,139.1 Q535.0,138.1 538.1,138.1 Q541.2,138.0 542.4,139.6 Q543.6,141.1 542.3,142.4 Z" fill="none" stroke="#d8c8bc" stroke-width="1.1"/><path d="M486.7,149.3 Q485.9,150.1 484.2,150.6 Q482.5,151.1 481.1,150.1 Q479.8,149.0 480.2,148.2 Q480.6,147.3 481.5,146.7 Q482.5,146.0 484.1,146.2 Q485.6,146.5 486.6,147.5 Q487.5,148.5 486.7,149.3 Z" fill="none" stroke="#d8c8bc" stroke-width="1.1"/><path d="M502.3,150.7 Q501.2,151.8 498.7,152.2 Q496.2,152.6 494.7,151.6 Q493.2,150.6 492.6,149.5 Q492.0,148.3 493.8,148.1 Q495.5,147.8 498.4,148.0 Q501.3,148.2 502.3,148.9 Q503.3,149.5 502.3,150.7 Z" fill="none" stroke="#d8c8bc" stroke-width="1.1"/><path d="M525.5,149.1 Q524.5,150.4 520.7,150.6 Q516.9,150.8 515.8,150.3 Q514.8,149.8 513.3,148.9 Q511.8,147.9 515.0,146.9 Q518.3,146.0 521.6,146.1 Q524.9,146.2 525.7,147.0 Q526.6,147.9 525.5,149.1 Z" fill="none" stroke="#d8c8bc" stroke-width="1.1"/><path d="M547.1,147.6 Q546.7,148.4 544.4,148.8 Q542.1,149.3 541.0,148.6 Q539.8,147.9 540.4,146.8 Q541.1,145.7 542.4,144.7 Q543.6,143.6 545.1,143.7 Q546.5,143.8 547.0,145.4 Q547.5,146.9 547.1,147.6 Z" fill="none" stroke="#d8c8bc" stroke-width="1.1"/><path d="M484.4,157.5 Q484.2,157.9 482.5,158.6 Q480.8,159.3 479.2,158.2 Q477.6,157.2 477.7,156.6 Q477.8,156.1 479.5,155.4 Q481.3,154.8 482.6,154.5 Q483.9,154.3 484.2,155.7 Q484.5,157.1 484.4,157.5 Z" fill="none" stroke="#d8c8bc" stroke-width="1.1"/><path d="M503.5,157.4 Q502.4,158.3 500.5,158.6 Q498.7,158.9 496.6,158.4 Q494.6,157.9 493.7,156.5 Q492.8,155.1 494.4,154.4 Q495.9,153.7 499.0,154.0 Q502.0,154.2 503.3,155.3 Q504.7,156.4 503.5,157.4 Z" fill="none" stroke="#d8c8bc" stroke-width="1.1"/><path d="M523.1,155.6 Q522.0,156.0 519.6,156.3 Q517.2,156.7 514.9,156.4 Q512.6,156.2 512.7,155.4 Q512.9,154.6 515.5,153.9 Q518.1,153.2 519.7,153.5 Q521.2,153.8 522.7,154.5 Q524.1,155.1 523.1,155.6 Z" fill="none" stroke="#d8c8bc" stroke-width="1.1"/><path d="M546.5,157.1 Q545.2,158.2 542.5,158.5 Q539.7,158.9 537.8,158.2 Q535.9,157.5 535.6,156.3 Q535.3,155.1 537.7,154.6 Q540.1,154.1 542.9,154.5 Q545.8,155.0 546.8,155.5 Q547.7,156.0 546.5,157.1 Z" fill="none" stroke="#d8c8bc" stroke-width="1.1"/>
<polyline points="448.6,98.2 494.2,98.2 507.1,110 495.3,119" fill="none" stroke="#ae937e" stroke-width="1.9" stroke-linejoin="miter"/><polyline points="443,99.3 433.4,108.3 443,123.5 482.9,123.5" fill="none" stroke="#ae937e" stroke-width="1.9" stroke-linejoin="miter"/><polyline points="486.9,122.9 494.7,131.4 492.5,121.2" fill="none" stroke="#ae937e" stroke-width="1.9" stroke-linejoin="miter"/>
<text x="445.8" y="113.4" font-size="7" letter-spacing="0.90" fill="#9a8374" >レンジで解凍</text>
<path d="M559.6,164.6 L566.4,182" stroke="#ae937e" stroke-width="1.7" stroke-dasharray="1.8 1.8"/>
<path d="M562.1,182.8 L570.2,189.9 M568.7,180.3 L567.7,189.4" stroke="#ae937e" stroke-width="1.1"/><circle cx="566.4" cy="193.8" r="2.3" fill="none" stroke="#ae937e" stroke-width="1.1"/><circle cx="573.1" cy="190.9" r="2.3" fill="none" stroke="#ae937e" stroke-width="1.1"/><circle cx="570.7" cy="196" r="0.9" fill="#ae937e"/>
<text x="455.6" y="188.0" font-size="7" letter-spacing="0.70" fill="#9a8374" >袋の端に切り込みを入れ</text>
<text x="455.6" y="196.6" font-size="7" letter-spacing="0.70" fill="#9a8374" >電子レンジで７分</text>
<text x="431.8" y="207.0" font-size="5" letter-spacing="0.40" fill="#9a8374" >※電子レンジで温めるだけでもお召し上がり頂けます。</text>
<rect x="599.1" y="117.6" width="93.1" height="62.3" rx="6" fill="#fff" stroke="#ae937e" stroke-width="2.2"/><rect x="604.1" y="121.6" width="61.7" height="4.6" rx="2.3" fill="#ae937e"/><rect x="602" y="130.2" width="67.1" height="46.8" fill="#ae937e"/><path d="M605.2,173.8 L636.7,133.4 H656.1 L626.2,173.8 Z" fill="#d8c8bc"/><path d="M627.1,173.8 L659.4,133.4" stroke="#d8c8bc" stroke-width="1.1"/><path d="M631.1,173.8 L665,133.4" stroke="#d8c8bc" stroke-width="1.1"/><rect x="606.9" y="180.5" width="8.8" height="3" fill="#ae937e"/><rect x="677.1" y="180.5" width="8.8" height="3" fill="#ae937e"/><circle cx="679.2" cy="167.5" r="6.4" fill="#fff" stroke="#ae937e" stroke-width="1.7"/><rect x="678.4" y="158.5" width="1.7" height="15.3" fill="#ae937e"/><rect x="670.7" y="149.3" width="18.6" height="3" fill="#ae937e"/><rect x="670.7" y="130.3" width="5" height="6.6" fill="#ae937e"/><rect x="677.3" y="130.3" width="5" height="6.6" fill="#ae937e"/><rect x="683.9" y="130.3" width="5" height="6.6" fill="#ae937e"/><rect x="670.7" y="138.9" width="5" height="6.6" fill="#ae937e"/><rect x="677.3" y="138.9" width="5" height="6.6" fill="#ae937e"/><rect x="683.9" y="138.9" width="5" height="6.6" fill="#ae937e"/>
<rect x="565.2" y="144.9" width="1.8" height="11.2" fill="#ae937e" stroke="#fff" stroke-width="0.6"/><rect x="571.2" y="144.9" width="2.8" height="11.2" fill="#ae937e" stroke="#fff" stroke-width="0.6"/><rect x="578.7" y="144.9" width="3.8" height="11.2" fill="#ae937e" stroke="#fff" stroke-width="0.6"/><rect x="587.2" y="144.9" width="5.6" height="11.2" fill="#ae937e" stroke="#fff" stroke-width="0.6"/><path d="M604,135.9 L622.8,150.5 L604,165.1 Z" fill="#ae937e" stroke="#fff" stroke-width="1.8"/><rect x="597" y="144.0" width="7.5" height="13.0" fill="#fff"/><rect x="598" y="144.9" width="7.0" height="11.2" fill="#ae937e"/>
<clipPath id="bc89"><rect x="651.7" y="66.9" width="44.6" height="19.9"/></clipPath><circle cx="674" cy="89.2" r="20.0" fill="#ae937e" clip-path="url(#bc89)"/><path d="M661.44,103.39 A18.95,18.95 0 1 1 668.46,107.32" fill="none" stroke="#ae937e" stroke-width="2.7"/><path d="M667.69,104.44 L661.30,113.59" stroke="#ae937e" stroke-width="3"/><text x="674" y="84.2" font-size="9.5" font-weight="bold" fill="#fff" text-anchor="middle" letter-spacing="-0.2">500W</text><text x="664.2" y="101.4" font-size="17.5" fill="#ae937e" font-weight="bold">7</text><text x="674.7" y="101.4" font-size="9" letter-spacing="0.60" fill="#ae937e" font-weight="bold">分</text>
<polygon points="445.1,263.5 528.4,263.5 545.4,312.4 427.4,312.4" fill="#fff" stroke="#ae937e" stroke-width="1.1"/>
<path d="M449,268.5 Q452,269 453.5,271.5 M522,270 Q523.5,268 525.5,267 M433,305 Q435,302 438,300.5" fill="none" stroke="#ae937e" stroke-width="1"/>
<path d="M495,272 H569.2 L575.9000000000001,298.4 L576.2,304 Q576.2,306 573.7,306 H490.5 Q488,306 488,304 L488.3,298.4 Z" fill="#ae937e"/><path d="M495.6,273.5 H568.6 L574.2,297.2 H490 Z" fill="none" stroke="#d8c8bc" stroke-width="1.1"/><path d="M488.3,299.2 H575.9000000000001" stroke="#fff" stroke-width="0.9"/><path d="M507.2,278.5 Q505.8,279.7 504.3,279.7 Q502.8,279.6 501.4,279.2 Q500.1,278.7 499.5,277.6 Q498.9,276.6 501.0,276.0 Q503.1,275.5 504.7,275.6 Q506.4,275.6 507.5,276.4 Q508.7,277.2 507.2,278.5 Z" fill="none" stroke="#d8c8bc" stroke-width="1.1"/><path d="M532.2,280.1 Q532.0,281.5 529.4,281.6 Q526.7,281.7 524.3,280.7 Q521.8,279.6 522.3,278.5 Q522.8,277.3 523.7,276.4 Q524.5,275.5 528.8,275.8 Q533.0,276.1 532.7,277.5 Q532.4,278.8 532.2,280.1 Z" fill="none" stroke="#d8c8bc" stroke-width="1.1"/><path d="M540.8,276.8 Q540.7,277.5 539.3,277.4 Q537.9,277.4 536.7,277.0 Q535.5,276.6 535.6,276.2 Q535.8,275.7 536.9,275.3 Q538.0,274.9 539.1,274.8 Q540.2,274.6 540.5,275.4 Q540.8,276.1 540.8,276.8 Z" fill="none" stroke="#d8c8bc" stroke-width="1.1"/><path d="M560.6,278.6 Q558.6,279.2 556.6,279.9 Q554.6,280.5 551.6,279.7 Q548.5,278.9 549.3,277.7 Q550.0,276.5 551.3,275.5 Q552.5,274.6 555.2,275.4 Q557.9,276.2 560.3,277.1 Q562.6,278.0 560.6,278.6 Z" fill="none" stroke="#d8c8bc" stroke-width="1.1"/><path d="M504.2,286.5 Q503.2,287.4 500.9,287.5 Q498.6,287.6 498.0,287.1 Q497.5,286.6 496.7,285.3 Q495.8,284.1 498.0,283.3 Q500.1,282.6 501.4,283.0 Q502.6,283.4 503.9,284.5 Q505.2,285.6 504.2,286.5 Z" fill="none" stroke="#d8c8bc" stroke-width="1.1"/><path d="M519.0,287.7 Q518.0,288.2 516.0,288.3 Q514.0,288.4 511.4,287.9 Q508.8,287.3 509.8,286.6 Q510.7,285.9 512.1,284.9 Q513.5,283.9 515.7,284.5 Q517.8,285.2 518.9,286.2 Q520.0,287.2 519.0,287.7 Z" fill="none" stroke="#d8c8bc" stroke-width="1.1"/><path d="M541.9,286.7 Q541.2,287.9 537.8,287.7 Q534.4,287.6 532.6,286.9 Q530.8,286.1 530.1,285.3 Q529.4,284.5 533.2,283.4 Q536.9,282.4 539.1,282.5 Q541.4,282.5 541.9,284.0 Q542.5,285.5 541.9,286.7 Z" fill="none" stroke="#d8c8bc" stroke-width="1.1"/><path d="M565.8,284.5 Q564.6,285.2 562.4,285.3 Q560.2,285.4 559.0,284.9 Q557.7,284.4 557.1,283.0 Q556.5,281.7 559.0,281.5 Q561.5,281.4 562.8,281.4 Q564.2,281.5 565.7,282.6 Q567.1,283.8 565.8,284.5 Z" fill="none" stroke="#d8c8bc" stroke-width="1.1"/><path d="M501.7,294.1 Q501.4,294.9 499.2,295.2 Q497.1,295.5 496.7,294.6 Q496.3,293.7 495.9,293.0 Q495.5,292.3 496.5,291.9 Q497.4,291.4 499.0,291.7 Q500.7,291.9 501.3,292.6 Q501.9,293.4 501.7,294.1 Z" fill="none" stroke="#d8c8bc" stroke-width="1.1"/><path d="M519.8,294.0 Q517.8,294.8 516.5,295.6 Q515.2,296.4 512.9,295.5 Q510.5,294.6 511.7,293.3 Q512.9,292.0 514.2,291.5 Q515.6,291.0 518.1,291.0 Q520.5,290.9 521.2,292.1 Q521.8,293.2 519.8,294.0 Z" fill="none" stroke="#d8c8bc" stroke-width="1.1"/><path d="M540.2,292.6 Q538.7,293.0 537.1,293.4 Q535.5,293.8 532.9,293.3 Q530.3,292.8 530.9,291.8 Q531.4,290.9 533.0,290.3 Q534.6,289.7 537.5,289.9 Q540.3,290.1 541.0,291.1 Q541.7,292.1 540.2,292.6 Z" fill="none" stroke="#d8c8bc" stroke-width="1.1"/><path d="M563.5,294.3 Q561.7,294.8 559.3,295.2 Q557.0,295.6 555.0,294.9 Q553.1,294.1 551.7,293.3 Q550.4,292.5 553.6,291.5 Q556.9,290.6 560.2,290.9 Q563.6,291.3 564.4,292.5 Q565.3,293.8 563.5,294.3 Z" fill="none" stroke="#d8c8bc" stroke-width="1.1"/>
<polyline points="451.8,224.6 507.5,224.6 523.3,236.7 508.9,245.3" fill="none" stroke="#ae937e" stroke-width="1.9" stroke-linejoin="miter"/><polyline points="444.3,225.3 433.5,235 445.6,249.4 493.1,249.4" fill="none" stroke="#ae937e" stroke-width="1.9" stroke-linejoin="miter"/><polyline points="498.6,249.4 508.2,259 504.8,247.3" fill="none" stroke="#ae937e" stroke-width="1.9" stroke-linejoin="miter"/>
<text x="441.2" y="239.8" font-size="7" letter-spacing="1.00" fill="#9a8374" >オーブンでこんがり</text>
<text x="454.4" y="328.5" font-size="7" letter-spacing="0.80" fill="#9a8374" >袋から取り出して、オーブンまたは</text>
<text x="454.4" y="337.4" font-size="7" letter-spacing="0.50" fill="#9a8374" >トースターで 15 分焼いて下さい</text>
<rect x="599.1" y="251.7" width="93.1" height="62.3" rx="6" fill="#fff" stroke="#ae937e" stroke-width="2.2"/><rect x="604.1" y="255.7" width="61.7" height="4.6" rx="2.3" fill="#ae937e"/><rect x="602" y="264.3" width="67.1" height="46.8" fill="#ae937e"/><path d="M605.2,307.9 L636.7,267.5 H656.1 L626.2,307.9 Z" fill="#d8c8bc"/><path d="M627.1,307.9 L659.4,267.5" stroke="#d8c8bc" stroke-width="1.1"/><path d="M631.1,307.9 L665,267.5" stroke="#d8c8bc" stroke-width="1.1"/><rect x="606.9" y="314.6" width="8.8" height="3" fill="#ae937e"/><rect x="677.1" y="314.6" width="8.8" height="3" fill="#ae937e"/><circle cx="679.2" cy="301.6" r="6.4" fill="#fff" stroke="#ae937e" stroke-width="1.7"/><rect x="678.4" y="292.6" width="1.7" height="15.3" fill="#ae937e"/><rect x="670.7" y="283.4" width="18.6" height="3" fill="#ae937e"/><rect x="670.7" y="264.4" width="5" height="6.6" fill="#ae937e"/><rect x="677.3" y="264.4" width="5" height="6.6" fill="#ae937e"/><rect x="683.9" y="264.4" width="5" height="6.6" fill="#ae937e"/><rect x="670.7" y="273.0" width="5" height="6.6" fill="#ae937e"/><rect x="677.3" y="273.0" width="5" height="6.6" fill="#ae937e"/><rect x="683.9" y="273.0" width="5" height="6.6" fill="#ae937e"/>
<rect x="574.4" y="281.0" width="1.4" height="11.6" fill="#ae937e" stroke="#fff" stroke-width="0.6"/><rect x="580" y="281.0" width="3.3" height="11.6" fill="#ae937e" stroke="#fff" stroke-width="0.6"/><rect x="588" y="281.0" width="4.2" height="11.6" fill="#ae937e" stroke="#fff" stroke-width="0.6"/><rect x="596.4" y="281.0" width="6.1" height="11.6" fill="#ae937e" stroke="#fff" stroke-width="0.6"/><path d="M605.3,281.0 H613.7 V272.2 L632,286.8 L613.7,301.4 V292.6 H605.3 Z" fill="#ae937e" stroke="#fff" stroke-width="1.8"/>
<clipPath id="bc223"><rect x="652.0" y="200.89999999999998" width="44.6" height="19.9"/></clipPath><circle cx="674.3" cy="223.2" r="20.0" fill="#ae937e" clip-path="url(#bc223)"/><path d="M661.74,237.39 A18.95,18.95 0 1 1 668.76,241.32" fill="none" stroke="#ae937e" stroke-width="2.7"/><path d="M667.99,238.44 L661.60,247.59" stroke="#ae937e" stroke-width="3"/><text x="674.3" y="218.2" font-size="9.5" font-weight="bold" fill="#fff" text-anchor="middle" letter-spacing="-0.2"></text><text x="660.8" y="235.6" font-size="16.6" fill="#ae937e" stroke="#ae937e" stroke-width="0.45" letter-spacing="-0.6">15</text><text x="676.8" y="235.4" font-size="9" letter-spacing="1.20" fill="#ae937e" font-weight="bold">分</text><text x="0" y="217.4" font-size="11" font-weight="bold" fill="#fff" letter-spacing="-0.3" transform="translate(664.4 0) scale(0.74 1)">190°C</text>
<polyline points="461,451.6 447.6,436.2 461,410.2 543.3,410.2" fill="none" stroke="#ae937e" stroke-width="2.1" stroke-linejoin="miter"/><polyline points="546.75,411.4 569.5,407.9 553.75,420.1" fill="none" stroke="#ae937e" stroke-width="2.1" stroke-linejoin="miter"/><polyline points="554.5,423.2 559,432.4 541.5,452.5 471.5,452.5" fill="none" stroke="#ae937e" stroke-width="2.1" stroke-linejoin="miter"/>
<text x="465" y="425.8" font-size="7" letter-spacing="1.10" fill="#9a8374" >冷蔵で２時間解凍して</text>
<text x="465" y="435.2" font-size="7" letter-spacing="1.10" fill="#9a8374" >その日のうちに</text>
<text x="465" y="444.6" font-size="7" letter-spacing="1.10" fill="#9a8374" >お召し上がり下さい</text>
<rect x="590.8" y="382.5" width="7" height="2" fill="#ae937e"/><rect x="593.0" y="383.9" width="2.6" height="2.5" fill="#ae937e"/><circle cx="594.3" cy="401.4" r="14.50" fill="#fff" stroke="#ae937e" stroke-width="2"/>
<text x="595.2" y="409" font-size="21" fill="#ae937e" stroke="#ae937e" stroke-width="0.25" text-anchor="middle" letter-spacing="2.5" transform="translate(594.3 0) scale(0.74 1) translate(-594.3 0)">2h</text>
<rect x="621.7" y="366.3" width="54.3" height="99.3" rx="3" fill="#ae937e"/>
<rect x="627.8" y="377.6" width="3" height="30.2" rx="1.5" fill="#fff"/>
<rect x="621.7" y="418.8" width="54.3" height="1.8" fill="#fff"/><rect x="637.5" y="418.8" width="22.3" height="4" rx="1" fill="#fff"/>
<rect x="621.7" y="441.3" width="54.3" height="1.8" fill="#fff"/><rect x="637.5" y="441.3" width="22.3" height="4" rx="1" fill="#fff"/>
</svg>
</body></html>
